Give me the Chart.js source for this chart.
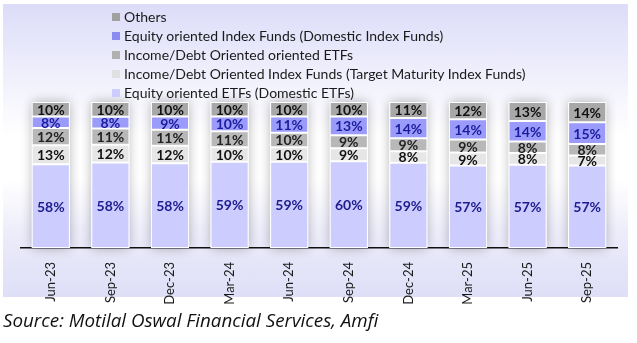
<!DOCTYPE html>
<html>
<head>
<meta charset="utf-8">
<script src="https://cdn.jsdelivr.net/npm/chart.js@4"></script>
<style>
  body { margin: 0; width: 637px; height: 343px; background: #fff; position: relative; overflow: hidden; font-family: Lato, "Liberation Sans", sans-serif; }
  #panel { position: absolute; left: 3px; top: 4px; width: 625px; height: 293px;
    background: linear-gradient(to bottom, #dcdcf9 0%, #f4f4fd 30%, #ffffff 45%, #ffffff 60%, #ebebfa 80%, #dedef7 100%); }
  #wrap { position: absolute; left: 0; top: 0; width: 637px; height: 343px; }
  #legend { position: absolute; left: 112px; top: 8px; font-size: 14px; color: #1a1a1a; }
  #legend div { height: 19px; line-height: 18px; white-space: nowrap; }
  #legend span { display: inline-block; width: 8px; height: 8px; margin-right: 4px; vertical-align: 1px; }
  #source { position: absolute; left: 3px; top: 307px; font-family: "Open Sans", sans-serif; font-size: 18.8px; font-style: italic; color: #111; }
</style>
</head>
<body>
<div id="panel"></div>
<div id="wrap"><canvas id="chart1" width="637" height="343"></canvas></div>
<div id="legend"></div>
<div id="source">Source: Motilal Oswal Financial Services, Amfi</div>
<script>
let quarters = ["Jun-23", "Sep-23", "Dec-23", "Mar-24", "Jun-24", "Sep-24", "Dec-24", "Mar-25", "Jun-25", "Sep-25"];
// bottom to top of each bar
let equityEtfs = [58, 58, 58, 59, 59, 60, 59, 57, 57, 57];
let debtIndexFunds = [13, 12, 12, 10, 10, 9, 8, 9, 8, 7];
let debtEtfs = [12, 11, 11, 11, 10, 9, 9, 9, 8, 8];
let equityIndexFunds = [8, 8, 9, 10, 11, 13, 14, 14, 14, 15];
let others = [10, 10, 10, 10, 10, 10, 11, 12, 13, 14];

let seriesNames = [
  "Equity oriented ETFs (Domestic ETFs)",
  "Income/Debt Oriented Index Funds (Target Maturity Index Funds)",
  "Income/Debt Oriented oriented ETFs",
  "Equity oriented Index Funds (Domestic Index Funds)",
  "Others",
];
let seriesValues = [equityEtfs, debtIndexFunds, debtEtfs, equityIndexFunds, others];
let fills = ["#ccccfe", "#e6e6e6", "#b8b8b8", "#9b9bfb", "#a8a8a8"];
let legendFills = ["#ccccfe", "#e0e0e0", "#b0b0b0", "#8c8cf0", "#a0a0a0"];
let labelColors = ["#1c1c8e", "#111111", "#222222", "#1c1c9e", "#111111"];

// 100% stacked: each bar scaled to its own total
let totals = quarters.map((q, i) => seriesValues.reduce((s, arr) => s + arr[i], 0));

let datasets = seriesValues.map((vals, k) => ({
  label: seriesNames[k],
  data: vals.map((v, i) => (v / totals[i]) * 100),
  raw: vals,
  backgroundColor: fills[k],
  borderColor: "#ffffff",
  borderWidth: 1,
  borderSkipped: false,
  categoryPercentage: 1,
  barPercentage: 0.64,
}));

// html legend, top item first
let legend = document.getElementById("legend");
for (let k = seriesNames.length - 1; k >= 0; k--) {
  let row = document.createElement("div");
  row.innerHTML = `<span style="background:${legendFills[k]}"></span>${seriesNames[k]}`;
  legend.appendChild(row);
}

let barShadow = {
  id: "barShadow",
  beforeDatasetsDraw(chart) {
    let ctx = chart.ctx;
    let bottomMeta = chart.getDatasetMeta(0);
    let topMeta = chart.getDatasetMeta(chart.data.datasets.length - 1);
    ctx.save();
    ctx.shadowColor = "rgba(0,0,0,0.3)";
    ctx.shadowBlur = 11;
    ctx.fillStyle = "#ffffff";
    bottomMeta.data.forEach((el, i) => {
      let top = topMeta.data[i].y;
      ctx.fillRect(el.x - el.width / 2, top, el.width, el.base - top);
    });
    ctx.restore();
  },
};

let segmentLabels = {
  id: "segmentLabels",
  afterDatasetsDraw(chart) {
    let ctx = chart.ctx;
    ctx.save();
    ctx.font = "bold 14px Lato";
    ctx.textAlign = "center";
    ctx.textBaseline = "middle";
    chart.data.datasets.forEach((ds, k) => {
      ctx.fillStyle = labelColors[k];
      chart.getDatasetMeta(k).data.forEach((el, i) => {
        ctx.fillText(ds.raw[i] + "%", el.x, (el.y + el.base) / 2 + 1);
      });
    });
    ctx.restore();
  },
};

new Chart(document.getElementById("chart1").getContext("2d"), {
  type: "bar",
  data: { labels: quarters, datasets: datasets },
  options: {
    responsive: false,
    animation: false,
    maintainAspectRatio: false,
    layout: { padding: { top: 102, left: 21, right: 20, bottom: 0 } },
    plugins: { legend: { display: false }, tooltip: { enabled: false } },
    scales: {
      x: {
        stacked: true,
        grid: { display: false },
        border: { display: true, color: "#111", width: 1.5 },
        ticks: {
          minRotation: 90,
          maxRotation: 90,
          padding: 6,
          color: "#1a1a1a",
          font: { family: "Lato", size: 13 },
        },
        afterFit(scale) {
          scale.height = 95;
        },
      },
      y: { stacked: true, display: false, min: 0, max: 100 },
    },
  },
  plugins: [barShadow, segmentLabels],
});
</script>
</body>
</html>
